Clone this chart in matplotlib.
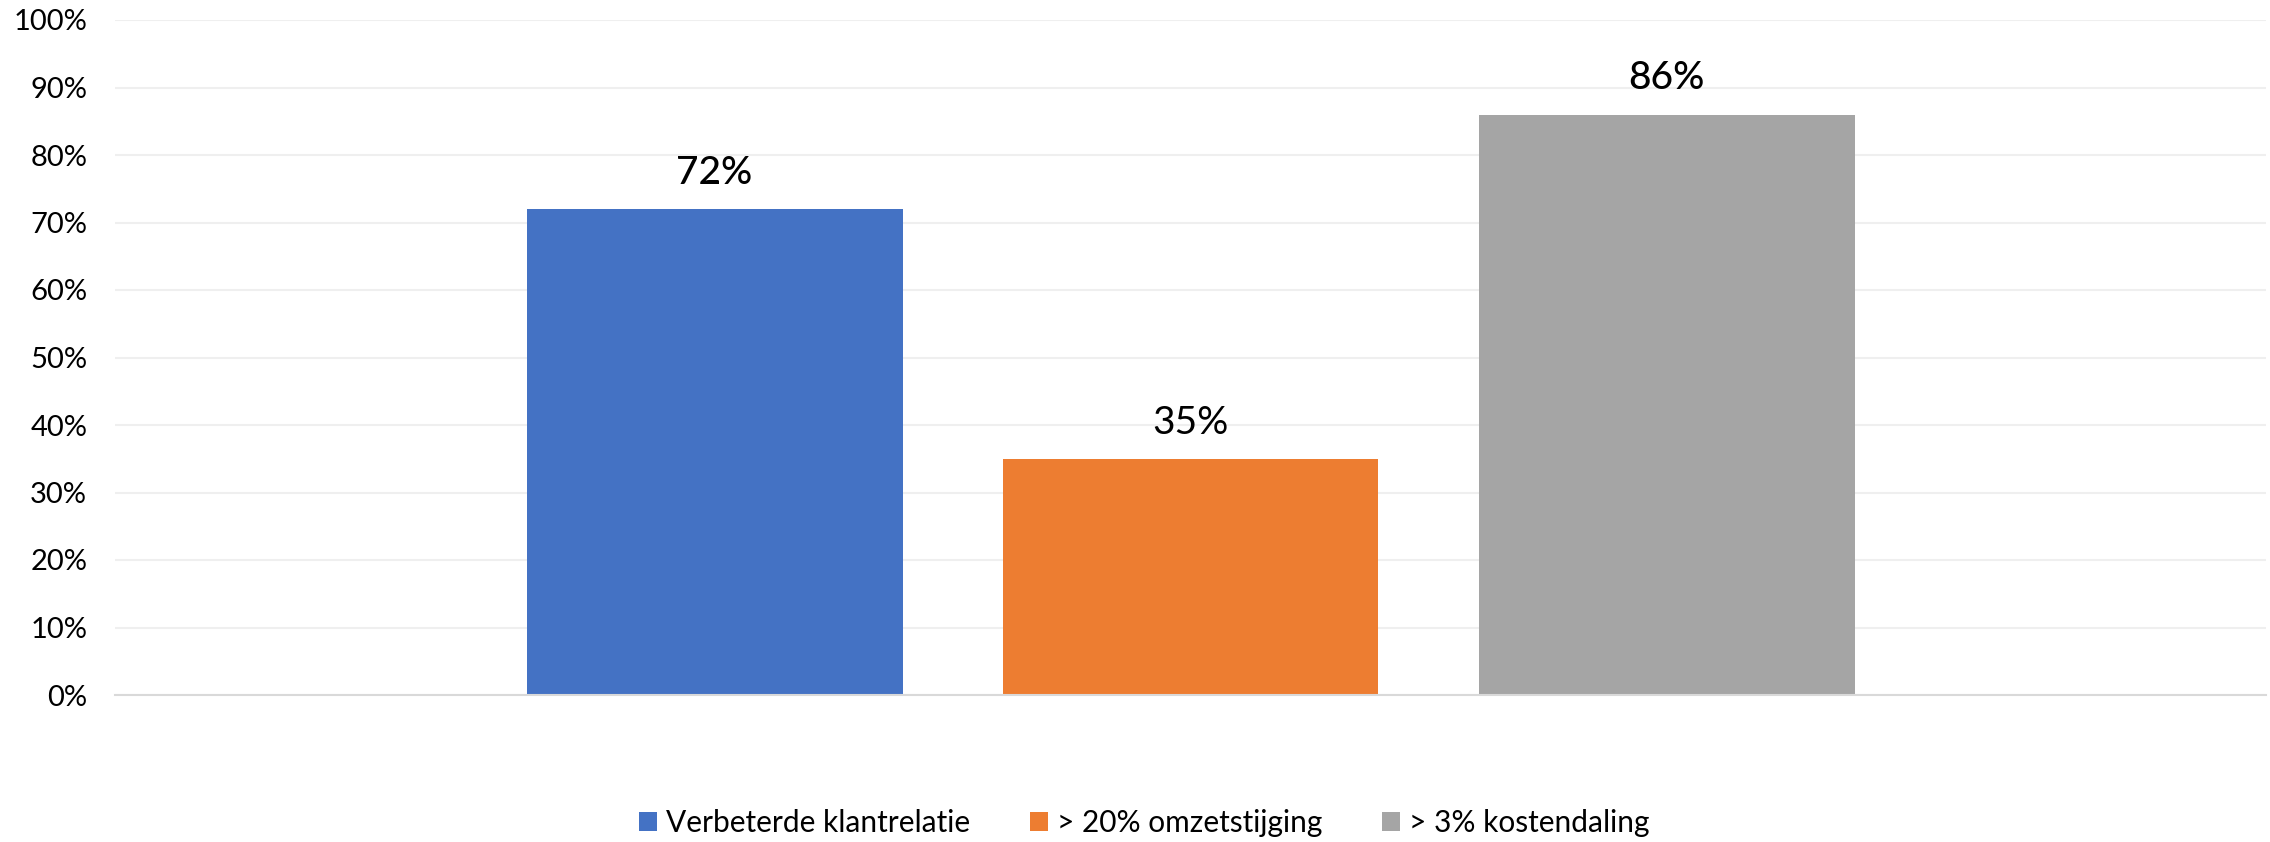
import matplotlib
matplotlib.use("Agg")
import matplotlib.pyplot as plt
from matplotlib.patches import Patch

series = ["Verbeterde klantrelatie", "> 20% omzetstijging", "> 3% kostendaling"]
values = [0.72, 0.35, 0.86]
labels = ["72%", "35%", "86%"]
colors = ["#4472C4", "#ED7D31", "#A5A5A5"]
yticks = [0, 0.1, 0.2, 0.3, 0.4, 0.5, 0.6, 0.7, 0.8, 0.9, 1.0]
ytick_labels = ["0%", "10%", "20%", "30%", "40%", "50%", "60%", "70%", "80%", "90%", "100%"]

plt.rcParams['font.family'] = ['Lato', 'DejaVu Sans']

W, H = 2270, 842
fig = plt.figure(figsize=(W / 100, H / 100), dpi=100)
ax = fig.add_axes([115 / W, 1 - 695 / H, (2266 - 115) / W, (695 - 20) / H])

bw = 376 / 2151
step = 476 / 2151
xs = [0.5 - step, 0.5, 0.5 + step]
for x, v, c, lab, w in zip(xs, values, colors, labels, ["medium", "normal", "medium"]):
    ax.bar(x, v, width=bw, color=c, zorder=3)
    ax.annotate(lab, (x, v), xytext=(0, 36), textcoords="offset pixels",
                ha="center", va="center", fontsize=28, fontweight=w, color="#000000")

ax.set_xlim(0, 1)
ax.set_ylim(0, 1)
ax.set_yticks(yticks)
ax.set_yticklabels(ytick_labels, fontsize=21, color="#000000")
ax.set_xticks([])
ax.tick_params(axis="y", length=0, pad=20)
ax.grid(axis="y", color="#efefef", linewidth=1.5, zorder=0)
for s in ["top", "right", "left"]:
    ax.spines[s].set_visible(False)
ax.spines["bottom"].set_color("#d9d9d9")
ax.spines["bottom"].set_linewidth(1.5)
ax.spines["bottom"].set_zorder(4)

handles = [Patch(facecolor=c, label=s) for c, s in zip(colors, series)]
fig.legend(handles=handles, loc="center", bbox_to_anchor=(1144 / W, 1 - 823 / H),
           ncol=3, frameon=False, fontsize=21.5, handlelength=0.6, handleheight=0.6,
           handletextpad=0.3, columnspacing=2.0)

fig.savefig("out.png", dpi=100, facecolor="white")
